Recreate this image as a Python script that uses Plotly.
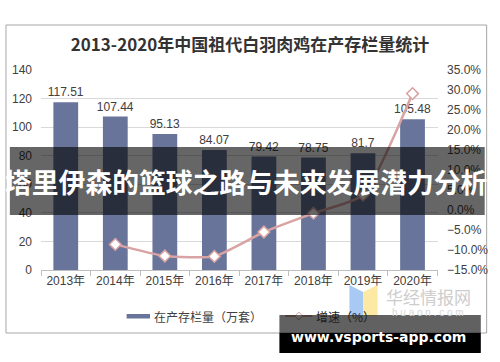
import plotly.graph_objects as go

years = ["2013年", "2014年", "2015年", "2016年", "2017年", "2018年", "2019年", "2020年"]
stock = [117.51, 107.44, 95.13, 84.07, 79.42, 78.75, 81.7, 105.48]
stock_labels = ["117.51", "107.44", "95.13", "84.07", "79.42", "78.75", "81.7", "105.48"]
growth_years = ["2014年", "2015年", "2016年", "2017年", "2018年", "2019年", "2020年"]
growth = [-8.6, -11.5, -11.6, -5.5, -0.8, 3.7, 29.1]

title_text = "2013-2020年中国祖代白羽肉鸡在产存栏量统计"
bar_name = "在产存栏量（万套）"
line_name = "增速（%）"
banner_text = "塔里伊森的篮球之路与未来发展潜力分析"
wm_text = "www.vsports-app.com"

BAR_C = "#68749A"
LINE_C = "#D9A3A3"
TXT_C = "#404040"
FONT = "Liberation Sans, Noto Sans CJK SC, sans-serif"
CJK = "Noto Sans CJK SC, sans-serif"

W, H = 500, 362
L, R, T, B = 39, 53, 70, 92
PW = W - L - R
PH = H - T - B


def X(px):
    return (px - L) / PW


def Y(py):
    return (H - B - py) / PH


fig = go.Figure()
fig.add_trace(go.Bar(
    x=years, y=stock, name=bar_name, marker=dict(color=BAR_C, line=dict(width=0)),
    text=stock_labels, textposition="outside", texttemplate="%{text}", constraintext="none",
    textfont=dict(size=12, color=TXT_C, family=FONT), cliponaxis=False,
    showlegend=False,
))
fig.add_trace(go.Scatter(
    x=growth_years, y=growth, name=line_name, yaxis="y2", mode="lines+markers",
    line=dict(color=LINE_C, width=2.5, shape="spline", smoothing=0.5),
    marker=dict(symbol="diamond", size=9, color="white", line=dict(color=LINE_C, width=1.5)),
    cliponaxis=False, showlegend=False,
))

shapes = []
# outer frame
shapes.append(dict(type="rect", xref="paper", yref="paper", x0=X(3), x1=X(497), y0=Y(333), y1=Y(25),
                   line=dict(color="#A6A6A6", width=1), fillcolor="rgba(0,0,0,0)", layer="below"))
# legend: bar item
shapes.append(dict(type="rect", xref="paper", yref="paper", x0=X(127), x1=X(151), y0=Y(318.5), y1=Y(314),
                   line=dict(width=0), fillcolor=BAR_C, layer="above"))


def path(pts):
    return "M " + " L ".join(f"{X(a):.5f},{Y(b):.5f}" for a, b in pts) + " Z"


# huajing logo icon
shapes.append(dict(type="path", xref="paper", yref="paper", path=path([(356, 285), (370, 292), (370, 316), (356, 316)]),
                   fillcolor="#A8C9F3", line=dict(width=0), layer="above"))
shapes.append(dict(type="path", xref="paper", yref="paper", path=path([(370, 292), (385, 285), (385, 316), (370, 316)]),
                   fillcolor="#FCE9A4", line=dict(width=0), layer="above"))
# legend: line item
shapes.append(dict(type="line", xref="paper", yref="paper", x0=X(290), x1=X(318), y0=Y(316), y1=Y(316),
                   line=dict(color=LINE_C, width=2), layer="above"))
shapes.append(dict(type="path", xref="paper", yref="paper",
                   path=path([(304, 312), (308, 316), (304, 320), (300, 316)]),
                   fillcolor="white", line=dict(color=LINE_C, width=1), layer="above"))
# banner overlay
shapes.append(dict(type="rect", xref="paper", yref="paper", x0=X(7), x1=X(495), y0=Y(215), y1=Y(147),
                   line=dict(width=0), fillcolor="rgba(0,0,0,0.6)", layer="above"))
# watermark box
shapes.append(dict(type="rect", xref="paper", yref="paper", x0=X(284), x1=X(491), y0=Y(333), y1=Y(315),
                   line=dict(width=0), fillcolor="rgba(0,0,0,0.62)", layer="above"))
shapes.append(dict(type="rect", xref="paper", yref="paper", x0=X(284), x1=X(491), y0=Y(353), y1=Y(333),
                   line=dict(width=0), fillcolor="black", layer="above"))

annotations = [
    dict(text=bar_name, xref="paper", yref="paper", x=X(153), y=Y(316.5), xanchor="left", yanchor="middle",
         showarrow=False, font=dict(size=12, color=TXT_C, family=CJK)),
    dict(text="华经情报网", xref="paper", yref="paper", x=X(437), y=Y(296), xanchor="center", yanchor="middle",
         showarrow=False, font=dict(size=17, color="#CDCDCD", family=CJK)),
    dict(text="h u a o n . c o m", xref="paper", yref="paper", x=X(437), y=Y(312), xanchor="center", yanchor="middle",
         showarrow=False, font=dict(size=10, color="#D6D6D6", family=FONT)),
    dict(text=line_name, xref="paper", yref="paper", x=X(320), y=Y(316.5), xanchor="left", yanchor="middle",
         showarrow=False, font=dict(size=12, color="#1E1E1E", family=CJK)),
    dict(text=f"<b>{banner_text}</b>", xref="paper", yref="paper", x=X(250), y=Y(181), xanchor="center",
         yanchor="middle", showarrow=False, font=dict(size=26.8, color="white", family=CJK)),
    dict(text=f"<b>{wm_text}</b>", xref="paper", yref="paper", x=X(386), y=Y(337), xanchor="center",
         yanchor="middle", showarrow=False, font=dict(size=14, color="white", family="DejaVu Sans, sans-serif")),
]

fig.update_layout(
    width=W, height=H, margin=dict(l=L, r=R, t=T, b=B),
    paper_bgcolor="white", plot_bgcolor="white",
    title=dict(text=f"<b>{title_text}</b>", x=0.5, xref="container", xanchor="center",
               y=1 - 45 / H, yref="container", yanchor="middle",
               font=dict(size=17, color="#333333", family=CJK)),
    bargap=0.5,
    xaxis=dict(type="category", showline=True, linecolor="#BFBFBF", linewidth=1,
               ticks="outside", tickson="boundaries", ticklen=5, tickcolor="#BFBFBF",
               tickfont=dict(size=12, color=TXT_C, family=FONT), showgrid=False),
    yaxis=dict(range=[0, 140], dtick=20, showgrid=True, gridcolor="#D9D9D9", gridwidth=1,
               zeroline=False, showline=False, ticklabelstandoff=8,
               tickfont=dict(size=12, color=TXT_C, family=FONT)),
    yaxis2=dict(range=[-15, 35], dtick=5, overlaying="y", side="right", showgrid=False,
                zeroline=False, showline=False, tickformat=".1f", ticksuffix="%", ticklabelstandoff=8,
                tickfont=dict(size=12, color=TXT_C, family=FONT)),
    shapes=shapes, annotations=annotations, showlegend=False,
)

fig.write_html("out.html", config={"displayModeBar": False},
               post_script="document.body.style.margin='0';")
